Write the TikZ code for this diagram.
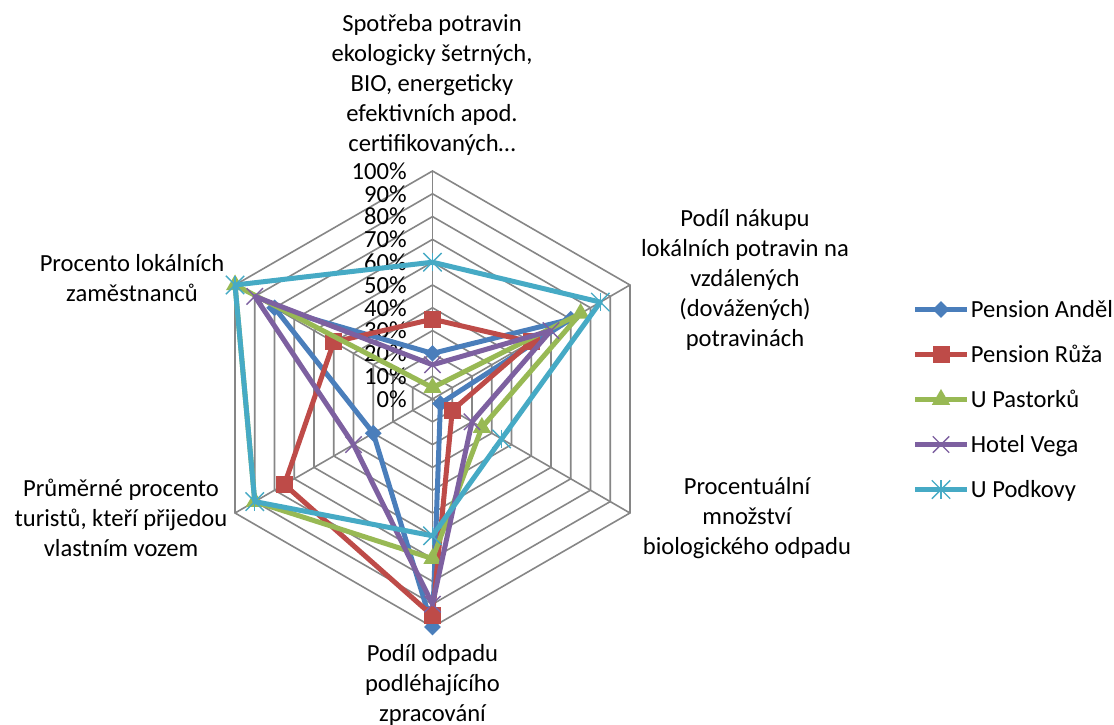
\documentclass[tikz,border=0pt]{standalone}
\usepackage{fontspec}
\setmainfont{Carlito}
\usetikzlibrary{calc,shapes.geometric,shapes.misc}

\definecolor{andel}{HTML}{4A7EBB}
\definecolor{ruza}{HTML}{BE4B48}
\definecolor{pastorku}{HTML}{98B954}
\definecolor{vega}{HTML}{7D60A0}
\definecolor{podkovy}{HTML}{46AAC5}
\definecolor{gridgray}{HTML}{868686}

\newcommand\chartfont{\fontsize{12.3pt}{15pt}\selectfont}

\tikzset{
  grid/.style={
    draw=gridgray,
    line width=0.8pt
  },
  series/.style={
    draw=#1,
    line width=2.5pt,
    line join=round
  },
  tick label/.style={
    anchor=east,
    inner sep=0pt,
    font=\chartfont
  },
  cat label/.style={
    anchor=north,
    align=center,
    inner sep=0pt,
    font=\chartfont
  },
  andelpt/.style={
    diamond,
    fill=andel,
    inner sep=0pt,
    minimum size=8.5pt
  },
  ruzapt/.style={
    rectangle,
    fill=ruza,
    inner sep=0pt,
    minimum size=8.5pt
  },
  pastorkupt/.style={
    regular polygon,
    regular polygon sides=3,
    fill=pastorku,
    inner sep=0pt,
    minimum size=10.5pt
  },
  vegapt/.style={
    cross out,
    draw=vega,
    line width=0.7pt,
    inner sep=0pt,
    minimum size=7.5pt
  },
  podkovypt/.style={
    cross out,
    draw=podkovy,
    line width=0.7pt,
    inner sep=0pt,
    minimum size=8.5pt,
    append after command={
      (\tikzlastnode.north) edge[draw=podkovy, line width=0.7pt] (\tikzlastnode.south)
    }
  }
}

\begin{document}
\begin{tikzpicture}[x=0.5pt, y=0.5pt]
  \path[fill=white, use as bounding box] (0,0) rectangle (1114,724);

  \begin{scope}[shift={(432.5,325)}]
    \foreach \k in {1,...,10}
      \draw[grid] (90:{\k*22.8}) \foreach \a in {30,-30,-90,-150,-210} { -- (\a:{\k*22.8}) } -- cycle;
    \foreach \a in {90,30,-30,-90,-150,-210}
      \draw[grid] (0,0) -- (\a:228);
    \foreach \k [evaluate=\k as \pc using int(10*\k)] in {0,...,10}
      \node[tick label] (tick\k) at (-25.5,{\k*22.8}) {\pc\%};

    \foreach \s/\vals in {andel/{20,70,4,100,30,80}, ruza/{35,50,10,95,75,50},
        pastorku/{5,75,25,70,90,100}, vega/{15,60,20,90,40,90},
        podkovy/{60,85,35,60,90,100}} {
      \foreach \v [count=\i] in \vals
        \coordinate (\s\i) at ({150-60*\i}:{2.28*\v});
      \draw[series=\s] (\s1) -- (\s2) -- (\s3) -- (\s4) -- (\s5) -- (\s6) -- cycle;
      \foreach \i in {1,...,6}
        \node[\s pt] (\s m\i) at (\s\i) {};
    }
  \end{scope}

  \node[cat label] (spotreba) at (432,710)
    {Spotřeba potravin\\ekologicky šetrných,\\BIO, energeticky\\efektivních apod.\\certifikovaných…};
  \node[cat label] (nakup) at (745,515)
    {Podíl nákupu\\lokálních potravin na\\vzdálených\\(dovážených)\\potravinách};
  \node[cat label] (bioodpad) at (747,246.5)
    {Procentuální\\množství\\biologického odpadu};
  \node[cat label] (odpad) at (432.5,80)
    {Podíl odpadu\\podléhajícího\\zpracování};
  \node[cat label] (turiste) at (121,245)
    {Průměrné procento\\turistů, kteří přijedou\\vlastním vozem};
  \node[cat label] (zamestnanci) at (132,470)
    {Procento lokálních\\zaměstnanců};

  \foreach \s/\txt [count=\j] in {andel/Pension Anděl, ruza/Pension Růža,
      pastorku/U Pastorků, vega/Hotel Vega, podkovy/U Podkovy} {
    \coordinate (\s a) at (915,{414.5-45*(\j-1)});
    \coordinate (\s b) at (967,{414.5-45*(\j-1)});
    \draw[series=\s] (\s a) -- (\s b);
    \node[\s pt] (\s key) at ($(\s a)!0.5!(\s b)$) {};
    \node[anchor=base west, inner sep=0pt, font=\chartfont] (\s txt)
      at (970.5,{406.5-45*(\j-1)}) {\txt};
  }
\end{tikzpicture}
\end{document}
